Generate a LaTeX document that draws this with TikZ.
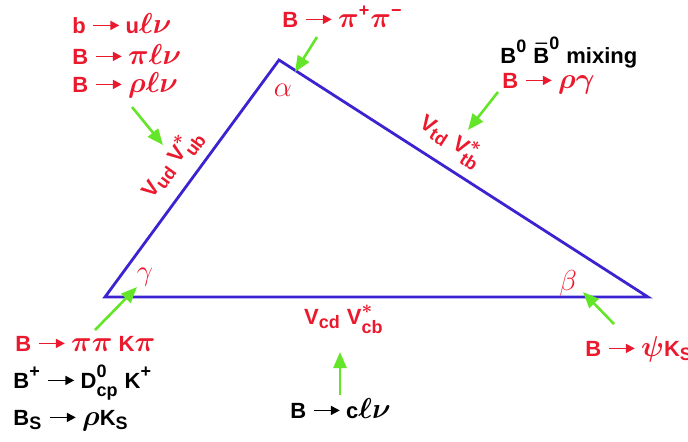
\documentclass[tikz,border=0pt]{standalone}
\usepackage{amsmath}
\usepackage{fontspec}
\setmainfont{Liberation Sans}
\usetikzlibrary{arrows.meta}
\DeclareMathSizes{11}{14}{9}{7}

\definecolor{ckmred}{RGB}{235,25,45}
\definecolor{utblue}{RGB}{60,35,210}
\definecolor{probegreen}{RGB}{100,230,40}

% decay arrow used inside the labels
\newcommand{\decay}{\hspace{0.3em}\tikz[baseline=-3.8pt]\draw[line width=0.9pt,
    -{Triangle[length=4.5pt,width=4.5pt]}] (0pt,0pt) -- (13pt,0pt);\hspace{0.25em}}
\newcommand{\tp}{\text{+}}
\newcommand{\tm}{\text{\textminus}}

\begin{document}
\begin{tikzpicture}[
    x=0.5pt, y=-0.5pt,
    font=\fontsize{11}{13}\selectfont\bfseries\boldmath,
    redtxt/.style   ={text=ckmred, anchor=base west, inner sep=0pt},
    blacktxt/.style ={text=black, anchor=base west, inner sep=0pt},
    ckm/.style      ={text=ckmred, inner sep=1pt},
    anglelbl/.style ={text=ckmred, inner sep=0pt, font=\fontsize{11}{13}\selectfont},
    side/.style     ={draw=utblue, line width=1.4pt},
    probe/.style    ={draw=probegreen, line width=1.3pt,
                      -{Triangle[length=8pt,width=6.5pt]}}
]
\useasboundingbox (0,0) rectangle (688,441);

% =================== unitarity triangle ===================
\coordinate (G)  at (105,297);
\coordinate (A)  at (279,60);
\coordinate (Bt) at (648,297);
\draw[side] (G) -- (A) -- (Bt) -- cycle;

\node[anglelbl] (alpha) at (283,90)  {$\alpha$};
\node[anglelbl] (gamma) at (145,277) {$\gamma$};
\node[anglelbl] (beta)  at (568,283) {$\beta$};

% sides
\path (G) -- (A) node[ckm, pos=0.5, sloped, above=4pt] (vub)
    {V$_{\text{ud}}$ V$^{*}_{\text{ub}}$};
\path (A) -- (Bt) node[ckm, pos=0.43, sloped, above=4pt] (vtb)
    {V$_{\text{td}}$ V$^{*}_{\text{tb}}$};
\path (G) -- (Bt) node[ckm, pos=0.44, below=3pt] (vcb)
    {V$_{\text{cd}}$ V$^{*}_{\text{cb}}$};

% =================== measurements ===================
\node[redtxt] (ul1) at (72,33) {b\decay u$\ell\nu$};
\node[redtxt] (ul2) at (72,64) {B\decay$\pi\ell\nu$};
\node[redtxt] (ul3) at (72,92) {B\decay$\rho\ell\nu$};

\node[redtxt] (pipi) at (282,27) {B\decay$\pi^{\tp}\pi^{\tm}$};

\node[blacktxt] (mix) at (500,63) {B$^{\text{0}}$ $\bar{\text{B}}^{\text{0}}$ mixing};
\node[redtxt] (rhog)  at (502,88) {B\decay$\rho\gamma$};

\node[redtxt]   (kpi) at (15,351) {B\decay$\pi\pi$ K$\pi$};
\node[blacktxt] (dk)  at (13,388) {B$^{\tp}$\decay D$^{\text{0}}_{\text{cp}}$ K$^{\tp}$};
\node[blacktxt] (bs)  at (13,425) {B$_{\text{S}}$\decay$\rho$K$_{\text{S}}$};

\node[redtxt] (psik) at (585,356) {B\decay$\psi$K$_{\text{S}}$};

\node[blacktxt] (cl) at (290,418) {B\decay c$\ell\nu$};

% =================== green arrows ===================
\coordinate (p1t) at (132,107); \coordinate (p1h) at (163,145);
\coordinate (p2t) at (317,37);  \coordinate (p2h) at (295,72);
\coordinate (p3t) at (498,92);  \coordinate (p3h) at (468,130);
\coordinate (p4t) at (95,330);  \coordinate (p4h) at (137,287);
\coordinate (p5t) at (340,395); \coordinate (p5h) at (340,352);
\coordinate (p6t) at (614,324); \coordinate (p6h) at (583,292);

\draw[probe] (p1t) -- (p1h);
\draw[probe] (p2t) -- (p2h);
\draw[probe] (p3t) -- (p3h);
\draw[probe] (p4t) -- (p4h);
\draw[probe] (p5t) -- (p5h);
\draw[probe] (p6t) -- (p6h);

\end{tikzpicture}
\end{document}
